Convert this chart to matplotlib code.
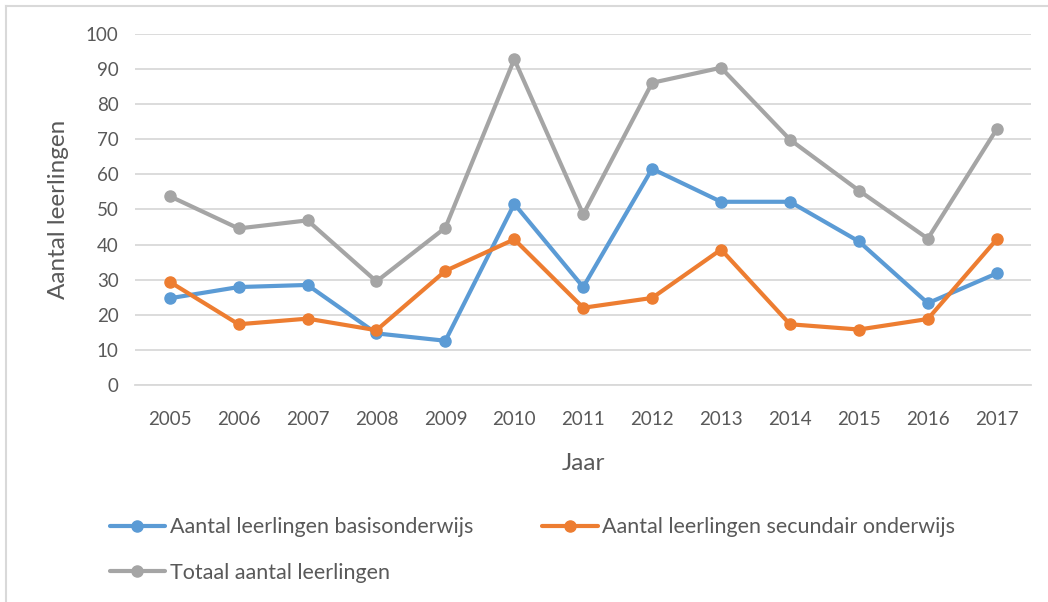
import matplotlib.pyplot as plt
from matplotlib.lines import Line2D

plt.rcParams['font.family'] = ['Lato', 'DejaVu Sans']

jaren = ['2005', '2006', '2007', '2008', '2009', '2010', '2011',
         '2012', '2013', '2014', '2015', '2016', '2017']
basis = [24.7, 27.9, 28.5, 14.7, 12.6, 51.6, 27.9, 61.6, 52.2, 52.2, 40.9, 23.3, 31.8]
secundair = [29.4, 17.3, 18.9, 15.6, 32.5, 41.5, 22.0, 24.8, 38.6, 17.3, 15.8, 18.8, 41.5]
totaal = [53.8, 44.6, 46.9, 29.5, 44.8, 92.8, 48.6, 86.1, 90.4, 69.9, 55.4, 41.7, 72.9]

labels = ['Aantal leerlingen basisonderwijs',
          'Aantal leerlingen secundair onderwijs',
          'Totaal aantal leerlingen']
colors = ['#5b9bd5', '#ed7d31', '#a5a5a5']
txt = '#595959'

fig = plt.figure(figsize=(10.48, 6.02), dpi=100)
ax = fig.add_axes([0.129, 0.3605, 0.855, 0.583])

x = range(len(jaren))
for serie, c, lab in zip([basis, secundair, totaal], colors, labels):
    ax.plot(x, serie, color=c, lw=3, marker='o', markersize=8, label=lab,
            solid_joinstyle='round', solid_capstyle='round')

ax.set_ylim(0, 100)
ax.set_xlim(-0.5, len(jaren) - 0.5)
ax.set_yticks(range(0, 101, 10))
ax.set_xticks(list(x))
ax.set_xticklabels(jaren)
ax.yaxis.grid(True, color='#d9d9d9', lw=1.3)
ax.set_axisbelow(True)
for s in ['top', 'right', 'left']:
    ax.spines[s].set_visible(False)
ax.spines['bottom'].set_color('#d9d9d9')
ax.spines['bottom'].set_linewidth(1.3)
ax.tick_params(length=0, labelsize=13.5, colors=txt, pad=12)
ax.tick_params(axis='x', pad=19)
ax.set_ylabel('Aantal leerlingen', fontsize=17.5, color=txt, labelpad=12)
ax.set_xlabel('Jaar', fontsize=17.5, color=txt, labelpad=18)

handles, labs = ax.get_legend_handles_labels()
order = [0, 2, 1]
fig.legend([handles[i] for i in order], [labs[i] for i in order],
           ncol=2, loc='lower left', bbox_to_anchor=(0.086, 0.0),
           frameon=False, fontsize=15.5, labelcolor=txt, handlelength=2.6,
           handletextpad=0.2, columnspacing=3.2, labelspacing=1.18)

# chart frame
fig.add_artist(Line2D([0.006, 0.006], [0.0, 0.99], color='#d9d9d9', lw=1.5))
fig.add_artist(Line2D([0.006, 1.0], [0.99, 0.99], color='#d9d9d9', lw=1.5))

fig.savefig('out.png', dpi=100)
